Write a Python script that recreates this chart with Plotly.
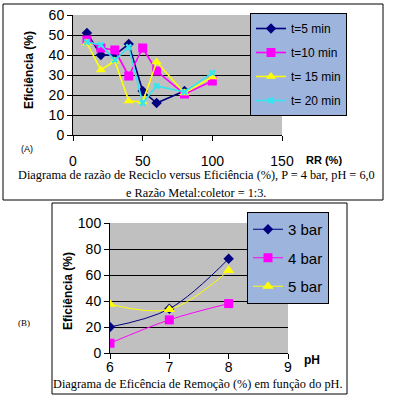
import plotly.graph_objects as go

W, H = 396, 406

# ---- Data: chart (A) ----
rr_x = [10, 20, 30, 40, 50, 60, 80, 100]
t5 = [51, 40, 40, 45.5, 22, 16, 22]
t10 = [47.5, 43.5, 42.5, 29.5, 43.5, 32, 20.5, 27]
t15 = [46, 32.5, 37, 17, 16.5, 36.5, 21, 29]
t20 = [46.5, 45, 37.5, 44, 16, 24.5, 21.5, 31]

# ---- Data: chart (B) ----
ph_x = [6, 7, 8]
b3 = [20, 34, 72.5]
b4 = [7.5, 25.5, 38]
b5 = [37.5, 33.5, 63.5]

def px(x):
    return x / W

def py(y):
    return 1 - y / H

fig = go.Figure()

mk = dict(mode="lines+markers")
fig.add_trace(go.Scatter(x=rr_x[:len(t5)], y=t5, name="t=5 min", legendgroup="a1", legend="legend",
                         line=dict(color="#000080", width=1.6),
                         marker=dict(symbol="diamond", size=8, color="#000080"), xaxis="x", yaxis="y", **mk))
fig.add_trace(go.Scatter(x=rr_x, y=t10, name="t=10 min", legendgroup="a2", legend="legend",
                         line=dict(color="#FF00FF", width=1.6),
                         marker=dict(symbol="square", size=9, color="#FF00FF"), xaxis="x", yaxis="y", **mk))
fig.add_trace(go.Scatter(x=rr_x, y=t15, name="t= 15 min", legendgroup="a3", legend="legend",
                         line=dict(color="#FFFF00", width=1.6),
                         marker=dict(symbol="triangle-up", size=9, color="#FFFF00"), xaxis="x", yaxis="y", **mk))
fig.add_trace(go.Scatter(x=rr_x, y=t20, name="t= 20 min", legendgroup="a4", legend="legend",
                         line=dict(color="#33E6F0", width=1.6),
                         marker=dict(symbol="x", size=6, color="#33E6F0"), xaxis="x", yaxis="y", **mk))

fig.add_trace(go.Scatter(x=ph_x, y=b3, name="3 bar", legendgroup="b1", legend="legend2",
                         line=dict(color="#000080", width=1, shape="spline"),
                         marker=dict(symbol="diamond", size=8, color="#000080"), xaxis="x2", yaxis="y2", **mk))
fig.add_trace(go.Scatter(x=ph_x, y=b4, name="4 bar", legendgroup="b2", legend="legend2",
                         line=dict(color="#FF00FF", width=1, shape="spline"),
                         marker=dict(symbol="square", size=9, color="#FF00FF"), xaxis="x2", yaxis="y2", **mk))
fig.add_trace(go.Scatter(x=ph_x, y=b5, name="5 bar", legendgroup="b3", legend="legend2",
                         line=dict(color="#FFFF00", width=1, shape="spline"),
                         marker=dict(symbol="triangle-up", size=10, color="#FFFF00"), xaxis="x2", yaxis="y2", **mk))

tickfont = dict(family="Liberation Sans, Arial", size=14, color="black")
axcommon = dict(showline=True, linecolor="black", linewidth=1, ticks="outside", ticklen=5,
                tickcolor="black", tickfont=tickfont, zeroline=False, fixedrange=True,
                automargin=False)

fig.update_layout(
    template="none",
    width=W, height=H, margin=dict(l=0, r=0, t=0, b=0, pad=0, autoexpand=False),
    paper_bgcolor="white", plot_bgcolor="white", showlegend=True,
    xaxis=dict(domain=[px(73), px(282)], range=[0, 150], tickvals=[0, 50, 100, 150],
               showgrid=False, anchor="y", ticklabelstandoff=8, **axcommon),
    yaxis=dict(domain=[py(135), py(15)], range=[0, 60], tickvals=[0, 10, 20, 30, 40, 50, 60],
               showgrid=True, gridcolor="black", gridwidth=1, anchor="x", **axcommon),
    xaxis2=dict(domain=[px(110), px(288)], range=[6, 9], tickvals=[6, 7, 8, 9],
                showgrid=False, anchor="y2", ticklabelstandoff=-4, **axcommon),
    yaxis2=dict(domain=[py(353), py(223)], range=[0, 100], tickvals=[0, 20, 40, 60, 80, 100],
                showgrid=True, gridcolor="black", gridwidth=1, anchor="x2", **axcommon),
    legend=dict(x=px(250), y=py(13), xanchor="left", yanchor="top",
                bgcolor="#9DB5DC", bordercolor="black", borderwidth=1,
                font=dict(family="Liberation Sans, Arial", size=12, color="black"),
                tracegroupgap=5, itemwidth=30),
    legend2=dict(x=px(247), y=py(212), xanchor="left", yanchor="top",
                 bgcolor="#9DB5DC", bordercolor="black", borderwidth=1,
                 font=dict(family="Liberation Sans, Arial", size=15, color="black"),
                 tracegroupgap=6, itemwidth=30),
)

shapes = [
    dict(type="rect", xref="x domain", yref="y domain", x0=0, x1=1, y0=0, y1=1,
         fillcolor="#C0C0C0", line=dict(width=0), layer="below"),
    dict(type="rect", xref="x2 domain", yref="y2 domain", x0=0, x1=1, y0=0, y1=1,
         fillcolor="#C0C0C0", line=dict(width=0), layer="below"),
    dict(type="rect", xref="paper", yref="paper", x0=px(3), x1=px(383), y0=py(200), y1=py(4),
         line=dict(color="black", width=1), fillcolor="rgba(0,0,0,0)", layer="below"),
    dict(type="rect", xref="paper", yref="paper", x0=px(52), x1=px(347), y0=py(394), y1=py(203),
         line=dict(color="black", width=1), fillcolor="rgba(0,0,0,0)", layer="below"),
]
fig.update_layout(shapes=shapes)

ann = []
def A(text, x, y, size=12, bold=False, family="Liberation Sans, Arial", angle=0, xanchor="center"):
    t = f"<b>{text}</b>" if bold else text
    ann.append(dict(text=t, x=px(x), y=py(y), xref="paper", yref="paper", showarrow=False,
                    xanchor=xanchor, yanchor="middle", textangle=angle,
                    font=dict(family=family, size=size, color="black")))

A("Eficiência (%)", 29, 70, size=12, bold=True, angle=-90)
A("RR (%)", 324, 160, size=11, bold=True)
A("(A)", 27, 149, size=9)
A("Diagrama de razão de Reciclo versus Eficiência (%), P = 4 bar, pH = 6,0", 196, 175,
  size=12.3, family="Liberation Serif, Times New Roman")
A("e Razão Metal:coletor = 1:3.", 196, 193, size=12.3, family="Liberation Serif, Times New Roman")

A("Eficiência (%)", 68, 291, size=12, bold=True, angle=-90)
A("pH", 312, 360, size=12, bold=True)
A("(B)", 24, 323, size=9, family="Liberation Serif, Times New Roman")
A("Diagrama de Eficência de Remoção (%) em função do pH.", 198, 384,
  size=12.3, family="Liberation Serif, Times New Roman")

fig.update_layout(annotations=ann)

fig.write_html("out.html",
               config={"displayModeBar": False},
               post_script="document.body.style.margin='0';document.body.style.padding='0';")
